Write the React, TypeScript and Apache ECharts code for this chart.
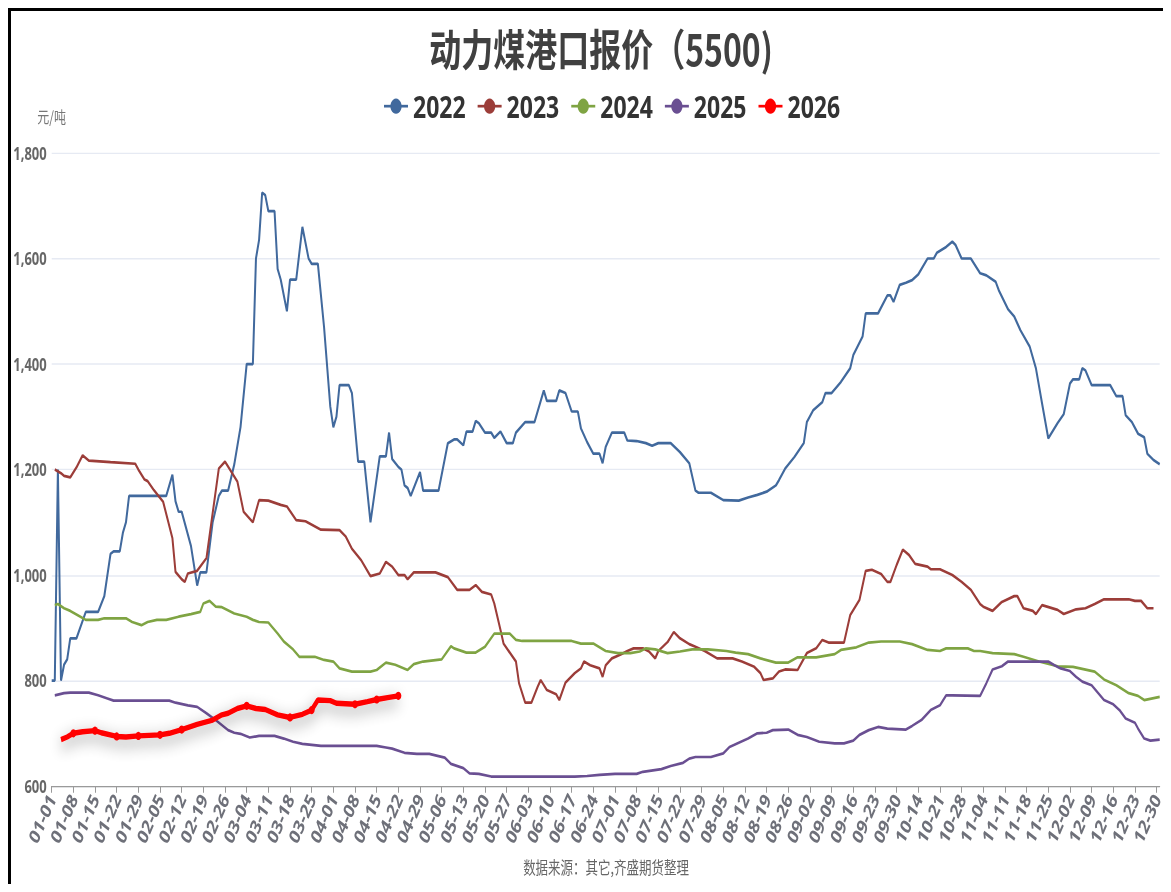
import React, { useEffect, useRef } from "react";
import * as echarts from "echarts";

// ---- categories: MM-DD of a leap year, National-Day holiday (10-01..10-07) absent ----
const DAYS_IN_MONTH = [31, 29, 31, 30, 31, 30, 31, 31, 30, 31, 30, 31];
const SKIPPED_DAYS = ["10-01", "10-02", "10-03", "10-04", "10-05", "10-06", "10-07"];
const CATEGORIES: string[] = [];
DAYS_IN_MONTH.forEach((n, m) => {
  for (let d = 1; d <= n; d++) {
    const key = `${String(m + 1).padStart(2, "0")}-${String(d).padStart(2, "0")}`;
    if (!SKIPPED_DAYS.includes(key)) CATEGORIES.push(key);
  }
});

const Y_TICKS = [600, 800, 1000, 1200, 1400, 1600, 1800];
const SERIES_NAMES = ["2022", "2023", "2024", "2025", "2026"];
const COLORS = ["#41699d", "#9c3d39", "#7fa443", "#6a4f92", "#ff0000"];

type P = [string, number];

const S2022: P[] = [
  ["01-01", 800], ["01-02", 800], ["01-03", 1200], ["01-04", 800], ["01-05", 830], ["01-06", 840], ["01-07", 880], ["01-09", 880],
  ["01-12", 930], ["01-16", 930], ["01-18", 960], ["01-20", 1040], ["01-21", 1045], ["01-23", 1045], ["01-24", 1080], ["01-25", 1100],
  ["01-26", 1150], ["02-07", 1150], ["02-09", 1190], ["02-10", 1140], ["02-11", 1120], ["02-12", 1120], ["02-15", 1055], ["02-17", 980],
  ["02-18", 1005], ["02-20", 1005], ["02-22", 1100], ["02-24", 1150], ["02-25", 1160], ["02-27", 1160], ["02-29", 1210], ["03-02", 1280],
  ["03-04", 1400], ["03-06", 1400], ["03-07", 1600], ["03-08", 1635], ["03-09", 1725], ["03-10", 1720], ["03-11", 1690], ["03-13", 1690],
  ["03-14", 1580], ["03-15", 1560], ["03-17", 1500], ["03-18", 1560], ["03-20", 1560], ["03-22", 1660], ["03-24", 1600], ["03-25", 1590],
  ["03-27", 1590], ["03-29", 1470], ["03-31", 1320], ["04-01", 1280], ["04-02", 1300], ["04-03", 1360], ["04-06", 1360], ["04-07", 1345],
  ["04-09", 1215], ["04-11", 1215], ["04-13", 1100], ["04-16", 1225], ["04-18", 1225], ["04-19", 1270], ["04-20", 1220], ["04-22", 1205],
  ["04-23", 1200], ["04-24", 1170], ["04-25", 1165], ["04-26", 1150], ["04-29", 1195], ["04-30", 1160], ["05-05", 1160], ["05-08", 1250],
  ["05-10", 1257], ["05-11", 1257], ["05-13", 1246], ["05-14", 1272], ["05-16", 1272], ["05-17", 1292], ["05-18", 1288], ["05-20", 1270],
  ["05-22", 1270], ["05-23", 1260], ["05-25", 1272], ["05-27", 1250], ["05-29", 1250], ["05-30", 1270], ["06-02", 1290], ["06-05", 1290],
  ["06-08", 1350], ["06-09", 1330], ["06-12", 1330], ["06-13", 1350], ["06-15", 1345], ["06-17", 1310], ["06-19", 1310], ["06-20", 1278],
  ["06-22", 1252], ["06-24", 1230], ["06-26", 1230], ["06-27", 1212], ["06-28", 1243], ["06-30", 1270], ["07-04", 1270], ["07-05", 1255],
  ["07-08", 1254], ["07-11", 1250], ["07-13", 1245], ["07-15", 1250], ["07-19", 1250], ["07-22", 1233], ["07-25", 1212], ["07-27", 1160],
  ["07-28", 1156], ["08-01", 1156], ["08-05", 1142], ["08-10", 1141], ["08-13", 1147], ["08-16", 1152], ["08-19", 1158], ["08-22", 1170],
  ["08-23", 1180], ["08-25", 1202], ["08-28", 1224], ["08-31", 1250], ["09-01", 1290], ["09-03", 1312], ["09-06", 1328], ["09-07", 1345],
  ["09-09", 1345], ["09-12", 1366], ["09-15", 1392], ["09-16", 1417], ["09-19", 1452], ["09-20", 1496], ["09-24", 1496], ["09-27", 1530],
  ["09-28", 1530], ["09-29", 1518], ["10-08", 1550], ["10-10", 1554], ["10-12", 1559], ["10-14", 1570], ["10-17", 1600], ["10-19", 1600],
  ["10-20", 1611], ["10-23", 1622], ["10-25", 1632], ["10-26", 1626], ["10-28", 1600], ["10-31", 1600], ["11-03", 1572], ["11-05", 1568],
  ["11-08", 1556], ["11-09", 1540], ["11-12", 1504], ["11-14", 1490], ["11-16", 1464], ["11-19", 1433], ["11-21", 1392], ["11-23", 1325],
  ["11-25", 1259], ["11-28", 1288], ["11-30", 1305], ["12-02", 1363], ["12-03", 1371], ["12-05", 1371], ["12-06", 1392], ["12-07", 1388],
  ["12-09", 1360], ["12-15", 1360], ["12-17", 1339], ["12-19", 1339], ["12-20", 1303], ["12-22", 1290], ["12-24", 1268], ["12-26", 1261],
  ["12-27", 1230], ["12-29", 1218], ["12-31", 1210],
];

const S2023: P[] = [
  ["01-02", 1200], ["01-04", 1193], ["01-05", 1188], ["01-07", 1185], ["01-09", 1204], ["01-11", 1227], ["01-13", 1217], ["01-20", 1214],
  ["01-28", 1211], ["01-29", 1200], ["01-31", 1181], ["02-01", 1178], ["02-03", 1161], ["02-06", 1139], ["02-09", 1070], ["02-10", 1006],
  ["02-12", 992], ["02-13", 987], ["02-14", 1003], ["02-17", 1008], ["02-20", 1032], ["02-22", 1117], ["02-24", 1202], ["02-26", 1215],
  ["03-01", 1177], ["03-03", 1120], ["03-06", 1100], ["03-08", 1142], ["03-11", 1141], ["03-15", 1133], ["03-17", 1130], ["03-20", 1104],
  ["03-23", 1102], ["03-28", 1086], ["04-03", 1085], ["04-05", 1073], ["04-07", 1050], ["04-10", 1028], ["04-13", 998], ["04-16", 1003],
  ["04-18", 1025], ["04-20", 1016], ["04-22", 1000], ["04-24", 1000], ["04-25", 992], ["04-27", 1005], ["05-04", 1005], ["05-08", 996],
  ["05-11", 972], ["05-15", 972], ["05-17", 981], ["05-19", 968], ["05-22", 963], ["05-23", 946], ["05-25", 896], ["05-26", 870],
  ["05-30", 836], ["05-31", 795], ["06-02", 758], ["06-04", 758], ["06-06", 788], ["06-07", 801], ["06-09", 782], ["06-12", 774],
  ["06-13", 763], ["06-15", 796], ["06-18", 814], ["06-20", 823], ["06-21", 836], ["06-23", 829], ["06-26", 823], ["06-27", 807],
  ["06-28", 829], ["06-30", 842], ["07-03", 850], ["07-05", 856], ["07-07", 861], ["07-10", 861], ["07-12", 855], ["07-14", 842],
  ["07-15", 856], ["07-18", 873], ["07-20", 892], ["07-22", 880], ["07-25", 869], ["07-27", 864], ["07-30", 856], ["08-03", 842],
  ["08-08", 842], ["08-11", 836], ["08-15", 826], ["08-17", 814], ["08-18", 801], ["08-21", 804], ["08-23", 817], ["08-25", 821],
  ["08-29", 820], ["09-01", 852], ["09-04", 861], ["09-06", 877], ["09-08", 872], ["09-13", 872], ["09-15", 924], ["09-18", 953],
  ["09-20", 1008], ["09-22", 1010], ["09-25", 1002], ["09-27", 987], ["09-28", 987], ["09-30", 1019], ["10-09", 1048], ["10-11", 1038],
  ["10-13", 1021], ["10-17", 1016], ["10-18", 1011], ["10-21", 1011], ["10-25", 1000], ["10-28", 987], ["10-31", 972], ["11-03", 945],
  ["11-04", 940], ["11-07", 932], ["11-10", 949], ["11-14", 960], ["11-15", 960], ["11-17", 937], ["11-20", 932], ["11-21", 926],
  ["11-23", 943], ["11-28", 934], ["11-30", 926], ["12-04", 935], ["12-07", 937], ["12-10", 945], ["12-13", 954], ["12-21", 954],
  ["12-23", 951], ["12-25", 951], ["12-27", 937], ["12-29", 937],
];

const S2024: P[] = [
  ["01-02", 943], ["01-03", 945], ["01-05", 937], ["01-07", 932], ["01-10", 922], ["01-12", 915], ["01-16", 915], ["01-18", 918],
  ["01-25", 918], ["01-27", 911], ["01-30", 905], ["02-01", 911], ["02-04", 915], ["02-07", 915], ["02-11", 921], ["02-15", 926],
  ["02-18", 930], ["02-19", 946], ["02-21", 951], ["02-23", 940], ["02-25", 939], ["02-29", 927], ["03-04", 921], ["03-06", 915],
  ["03-08", 911], ["03-11", 910], ["03-14", 889], ["03-16", 874], ["03-19", 859], ["03-21", 845], ["03-26", 845], ["03-29", 839],
  ["04-01", 836], ["04-03", 823], ["04-07", 817], ["04-13", 817], ["04-15", 820], ["04-18", 834], ["04-21", 830], ["04-25", 820],
  ["04-27", 831], ["04-30", 836], ["05-06", 840], ["05-09", 865], ["05-10", 861], ["05-14", 853], ["05-17", 853], ["05-20", 864],
  ["05-23", 889], ["05-28", 889], ["05-30", 877], ["06-01", 875], ["06-17", 875], ["06-20", 870], ["06-24", 870], ["06-28", 856],
  ["07-02", 852], ["07-06", 852], ["07-09", 855], ["07-11", 861], ["07-14", 859], ["07-18", 852], ["07-22", 855], ["07-26", 859],
  ["07-31", 859], ["08-06", 856], ["08-09", 853], ["08-13", 850], ["08-17", 842], ["08-22", 834], ["08-26", 834], ["08-29", 844],
  ["09-04", 844], ["09-10", 850], ["09-12", 858], ["09-17", 863], ["09-21", 872], ["09-25", 874], ["10-08", 874], ["10-12", 869],
  ["10-17", 858], ["10-21", 856], ["10-23", 861], ["10-30", 861], ["11-01", 856], ["11-03", 856], ["11-07", 852], ["11-14", 850],
  ["11-17", 845], ["11-22", 836], ["11-28", 827], ["12-03", 826], ["12-10", 817], ["12-13", 802], ["12-17", 791], ["12-21", 776],
  ["12-24", 771], ["12-26", 763], ["12-31", 769],
];

const S2025: P[] = [
  ["01-02", 772], ["01-05", 776], ["01-07", 777], ["01-13", 777], ["01-16", 772], ["01-19", 766], ["01-21", 762], ["02-08", 762],
  ["02-10", 758], ["02-14", 753], ["02-17", 750], ["02-20", 738], ["02-23", 725], ["02-27", 706], ["02-29", 701], ["03-02", 699],
  ["03-05", 692], ["03-08", 695], ["03-13", 695], ["03-16", 690], ["03-19", 684], ["03-22", 680], ["03-28", 676], ["04-15", 676],
  ["04-18", 673], ["04-20", 671], ["04-23", 665], ["04-24", 663], ["04-28", 661], ["05-02", 661], ["05-07", 654], ["05-09", 642],
  ["05-13", 634], ["05-15", 624], ["05-18", 623], ["05-22", 618], ["06-18", 618], ["06-22", 619], ["06-26", 621], ["07-01", 623],
  ["07-08", 623], ["07-10", 627], ["07-16", 632], ["07-19", 638], ["07-23", 644], ["07-25", 652], ["07-27", 655], ["08-01", 655],
  ["08-05", 662], ["08-07", 674], ["08-10", 682], ["08-13", 690], ["08-16", 700], ["08-19", 701], ["08-21", 706], ["08-26", 707],
  ["08-29", 697], ["09-01", 693], ["09-05", 684], ["09-10", 681], ["09-13", 681], ["09-16", 686], ["09-18", 697], ["09-21", 706],
  ["09-24", 712], ["09-27", 709], ["10-10", 707], ["10-12", 714], ["10-15", 725], ["10-18", 744], ["10-21", 753], ["10-23", 772],
  ["10-25", 772], ["11-03", 771], ["11-05", 795], ["11-07", 821], ["11-10", 827], ["11-12", 836], ["11-25", 836], ["11-27", 829],
  ["11-29", 823], ["12-02", 818], ["12-04", 807], ["12-06", 798], ["12-09", 791], ["12-13", 763], ["12-16", 755], ["12-18", 744],
  ["12-20", 728], ["12-23", 720], ["12-24", 709], ["12-26", 690], ["12-28", 686], ["12-31", 688],
];

const S2026: P[] = [
  ["01-04", 688], ["01-06", 693], ["01-08", 700], ["01-11", 703], ["01-15", 705], ["01-17", 701], ["01-22", 694], ["01-25", 693],
  ["01-29", 695], ["02-05", 697], ["02-08", 700], ["02-12", 707], ["02-17", 717], ["02-22", 725], ["02-25", 735], ["02-27", 738],
  ["03-01", 747], ["03-04", 752], ["03-07", 747], ["03-10", 745], ["03-14", 735], ["03-18", 730], ["03-22", 736], ["03-25", 744],
  ["03-27", 763], ["03-31", 762], ["04-02", 757], ["04-08", 755], ["04-12", 760], ["04-15", 764], ["04-19", 768], ["04-22", 771],
];

const SERIES_DATA = [S2022, S2023, S2024, S2025, S2026];

const TITLE = "动力煤港口报价（5500)";
const UNIT = "元/吨";
const SOURCE = "数据来源：其它,齐盛期货整理";

// visual vertical stretch of the reference picture
const STRETCH = 1.35;
const W = 1160;
const H = 647;
const FONT = "'Noto Sans', 'Noto Sans CJK SC', sans-serif";
const CJK = "'Noto Sans CJK SC', 'Noto Sans', sans-serif";

export default function App() {
  const ref = useRef<HTMLDivElement>(null);

  useEffect(() => {
    document.documentElement.style.overflow = "hidden";
    document.body.style.overflow = "hidden";
    if (!ref.current) return;
    const chart = echarts.init(ref.current, undefined, { renderer: "svg", width: W, height: H });
    const series: any[] = SERIES_NAMES.map((name, i) => {
      const isLast = i === SERIES_NAMES.length - 1;
      return {
        name,
        type: "line",
        data: SERIES_DATA[i],
        symbol: "circle",
        symbolSize: isLast ? 6 : 4,
        showSymbol: isLast,
        z: isLast ? 10 : 2 + i,
        itemStyle: { color: COLORS[i] },
        lineStyle: isLast
          ? { width: 4, color: COLORS[i], shadowColor: "rgba(0,0,0,0.45)", shadowBlur: 12, shadowOffsetY: 4 }
          : { width: 2, color: COLORS[i] },
      };
    });

    chart.setOption({
      animation: false,
      color: COLORS,
      title: {
        text: TITLE,
        left: 590,
        textAlign: "center",
        top: 11,
        padding: 0,
        textStyle: { fontFamily: CJK, fontSize: 32, fontWeight: "bold", color: "#404040" },
      },
      legend: {
        data: SERIES_NAMES,
        left: 372,
        top: 59,
        padding: 0,
        itemWidth: 24,
        itemHeight: 14,
        itemGap: 11,
        textStyle: { fontFamily: FONT, fontSize: 23, fontWeight: "bold", color: "#333" },
      },
      grid: { left: 40.7, right: 11.3, top: 105.2, bottom: 72.9, containLabel: false, outerBoundsMode: "none" },
      xAxis: {
        type: "category",
        data: CATEGORIES,
        boundaryGap: false,
        axisLine: { show: true, lineStyle: { color: "#9a9a9a" } },
        axisTick: { show: true, interval: 6, length: 5, lineStyle: { color: "#9a9a9a" } },
        axisLabel: {
          interval: 6,
          rotate: 60,
          margin: 7,
          fontFamily: FONT,
          fontSize: 15,
          fontWeight: "bold",
          color: "#6e7079",
        },
        splitLine: { show: false },
      },
      yAxis: {
        type: "value",
        min: Y_TICKS[0],
        max: Y_TICKS[Y_TICKS.length - 1],
        interval: 200,
        name: UNIT,
        nameLocation: "end",
        nameGap: 22,
        nameTextStyle: { fontFamily: CJK, fontSize: 12, color: "#777", align: "center" },
        axisLine: { show: false },
        axisTick: { show: false },
        axisLabel: { fontFamily: FONT, fontSize: 13, fontWeight: "bold", color: "#666", margin: 5 },
        splitLine: { lineStyle: { color: "#e6eaf3" } },
      },
      graphic: [
        {
          type: "text",
          x: 595,
          y: 634,
          style: {
            text: SOURCE,
            fontFamily: CJK,
            fontSize: 12.5,
            fill: "#666",
            textAlign: "center",
            textVerticalAlign: "middle",
          },
        },
      ],
      series,
    });
    return () => chart.dispose();
  }, []);

  return (
    <div
      style={{
        width: W,
        height: 873,
        overflow: "hidden",
        borderTop: "3px solid #000",
        borderLeft: "3px solid #000",
        background: "#fff",
      }}
    >
      <div
        ref={ref}
        style={{ width: W, height: H, transform: `scaleY(${STRETCH})`, transformOrigin: "0 0" }}
      />
    </div>
  );
}
